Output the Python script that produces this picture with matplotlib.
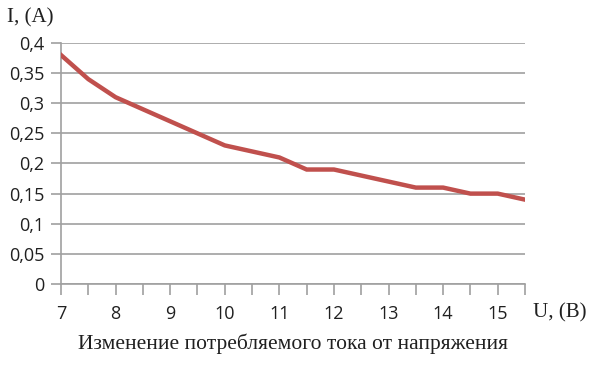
import matplotlib
matplotlib.use("Agg")
import matplotlib.pyplot as plt
from matplotlib.ticker import FixedLocator, FuncFormatter

voltage = [7, 7.5, 8, 8.5, 9, 9.5, 10, 10.5, 11, 11.5, 12, 12.5, 13, 13.5, 14, 14.5, 15, 15.5]
current = [0.38, 0.34, 0.31, 0.29, 0.27, 0.25, 0.23, 0.22, 0.21, 0.19, 0.19, 0.18, 0.17, 0.16, 0.16, 0.15, 0.15, 0.14]
y_ticks = [0, 0.05, 0.1, 0.15, 0.2, 0.25, 0.3, 0.35, 0.4]
title = "Изменение потребляемого тока от напряжения"
xlabel = "U, (B)"
ylabel = "I, (A)"

fig = plt.figure(figsize=(6, 3.72), dpi=100)
ax = fig.add_axes([0.1017, 0.2366, 0.875 - 0.1017, 0.8844 - 0.2366])

grid_c = "#A0A0A0"
ax.plot(voltage, current, color="#C0504D", lw=3.2, solid_joinstyle="miter", zorder=3)
ax.set_xlim(voltage[0], voltage[-1])
ax.set_ylim(0, 0.4)

ax.yaxis.set_major_locator(FixedLocator(y_ticks))
ax.yaxis.set_major_formatter(FuncFormatter(lambda v, p: ("%g" % round(v, 2)).replace(".", ",")))
ax.xaxis.set_major_locator(FixedLocator(voltage))
ax.xaxis.set_major_formatter(FuncFormatter(lambda v, p: "%d" % v if abs(v - round(v)) < 1e-6 else ""))

ax.grid(axis="y", color=grid_c, lw=1.2)
ax.set_axisbelow(True)
for s in ["top", "right"]:
    ax.spines[s].set_visible(False)
for s in ["left", "bottom"]:
    ax.spines[s].set_color(grid_c)
    ax.spines[s].set_linewidth(1.2)

tick_font = "Open Sans"
ax.tick_params(axis="both", colors=grid_c, width=1.2, length=7, direction="out")
ax.tick_params(axis="x", length=8, pad=7)
ax.tick_params(axis="y", pad=5)
for lab in ax.get_xticklabels() + ax.get_yticklabels():
    lab.set_fontfamily(tick_font)
    lab.set_fontsize(13)
    lab.set_color("#202020")

fig.text(533 / 600, 1 - 313 / 372, xlabel, family="Liberation Serif", fontsize=15, va="center", ha="left", color="#202020")
fig.text(7 / 600, 1 - 18 / 372, ylabel, family="Liberation Serif", fontsize=15, va="center", ha="left", color="#202020")
fig.text(293 / 600, 1 - 344 / 372, title, family="Liberation Serif", fontsize=15.5, va="center", ha="center", color="#202020")

fig.savefig("out.png", dpi=100)
